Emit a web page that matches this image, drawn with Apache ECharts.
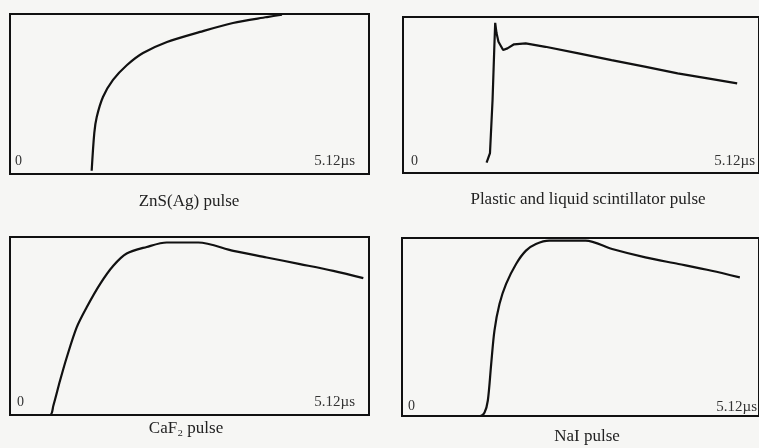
<!DOCTYPE html>
<html>
<head>
<meta charset="utf-8">
<script src="https://cdn.jsdelivr.net/npm/echarts@6/dist/echarts.min.js"></script>
<style>
html,body{margin:0;padding:0;background:#f6f6f4;}
#chart{width:759px;height:448px;}
</style>
</head>
<body>
<div id="chart"></div>
<script>
// Panel titles
const panelTitles = ['ZnS(Ag) pulse', 'Plastic and liquid scintillator pulse', 'CaF\u2082 pulse', 'NaI pulse'];
// Axis end labels
const tickLabels = ['0', '5.12\u00b5s'];
const xMax = 5.12;

// time (µs)
const znsX = [1.165, 1.202, 1.237, 1.326, 1.469, 1.669, 1.897, 2.239, 2.710, 3.180, 3.665, 3.879];
const znsY = [0.02, 0.256, 0.356, 0.481, 0.588, 0.681, 0.756, 0.825, 0.888, 0.944, 0.981, 0.996];

const plasticX = [1.202, 1.251, 1.288, 1.312, 1.326, 1.345, 1.373, 1.440, 1.502, 1.597, 1.764, 2.049, 2.524, 2.999, 3.476, 3.950, 4.425, 4.806];
const plasticY = [0.066, 0.128, 0.468, 0.788, 0.963, 0.897, 0.841, 0.788, 0.799, 0.825, 0.831, 0.809, 0.767, 0.724, 0.682, 0.639, 0.603, 0.574];

const cafX = [0, 0.570, 0.618, 0.713, 0.809, 0.951, 1.094, 1.284, 1.473, 1.664, 1.950, 2.235, 2.686, 3.185, 3.661, 4.136, 4.611, 5.039];
const cafY = [0, 0, 0.052, 0.192, 0.323, 0.492, 0.605, 0.735, 0.838, 0.907, 0.944, 0.969, 0.969, 0.922, 0.885, 0.848, 0.810, 0.769];

const naiX = [0, 1.12, 1.184, 1.231, 1.279, 1.326, 1.398, 1.493, 1.636, 1.778, 1.921, 2.111, 2.634, 3.014, 3.490, 3.965, 4.440, 4.845];
const naiY = [0, 0, 0.02, 0.087, 0.292, 0.480, 0.629, 0.742, 0.854, 0.929, 0.966, 0.985, 0.985, 0.938, 0.891, 0.854, 0.816, 0.779];

const seriesXs = [znsX, plasticX, cafX, naiX];
const seriesYs = [znsY, plasticY, cafY, naiY];

const grids = [
  {left: 10, top: 14, width: 359, height: 160},
  {left: 403, top: 17, width: 359, height: 156},
  {left: 10, top: 237, width: 359, height: 178},
  {left: 402, top: 238, width: 359, height: 178}
];
const titlePos = [[189, 202], [588, 200], [186, 429], [587, 437]];
const zeroPos = [[15, 161], [411, 161], [17, 402], [408, 406]];
const endPos = [[355, 161], [755, 161], [355, 402], [757, 407]];

const chart = echarts.init(document.getElementById('chart'), null, {renderer: 'canvas'});
const serif = '"Liberation Serif", "DejaVu Serif", serif';

const graphics = [];
for (let i = 0; i < 4; i++) {
  graphics.push({type: 'text', x: titlePos[i][0], y: titlePos[i][1],
    style: {text: panelTitles[i], font: '17px ' + serif, fill: '#222', textAlign: 'center', textVerticalAlign: 'middle'}});
  graphics.push({type: 'text', x: zeroPos[i][0], y: zeroPos[i][1],
    style: {text: tickLabels[0], font: '14px ' + serif, fill: '#333', textAlign: 'left', textVerticalAlign: 'middle'}});
  graphics.push({type: 'text', x: endPos[i][0], y: endPos[i][1],
    style: {text: tickLabels[1], font: '15px ' + serif, fill: '#333', textAlign: 'right', textVerticalAlign: 'middle'}});
}

const option = {
  backgroundColor: '#f6f6f4',
  animation: false,
  grid: grids.map(g => Object.assign({show: true, borderColor: '#111', borderWidth: 2, backgroundColor: 'transparent', containLabel: false}, g)),
  xAxis: grids.map((g, i) => ({type: 'value', gridIndex: i, min: 0, max: xMax, show: false})),
  yAxis: grids.map((g, i) => ({type: 'value', gridIndex: i, min: 0, max: 1, show: false})),
  series: seriesXs.map((xs, i) => ({
    type: 'line', xAxisIndex: i, yAxisIndex: i,
    data: xs.map((x, k) => [x, seriesYs[i][k]]),
    showSymbol: false, smooth: i === 1 ? false : 0.3,
    lineStyle: {color: '#111', width: 2.2}, clip: false
  })),
  graphic: graphics
};
chart.setOption(option);
</script>
</body>
</html>
